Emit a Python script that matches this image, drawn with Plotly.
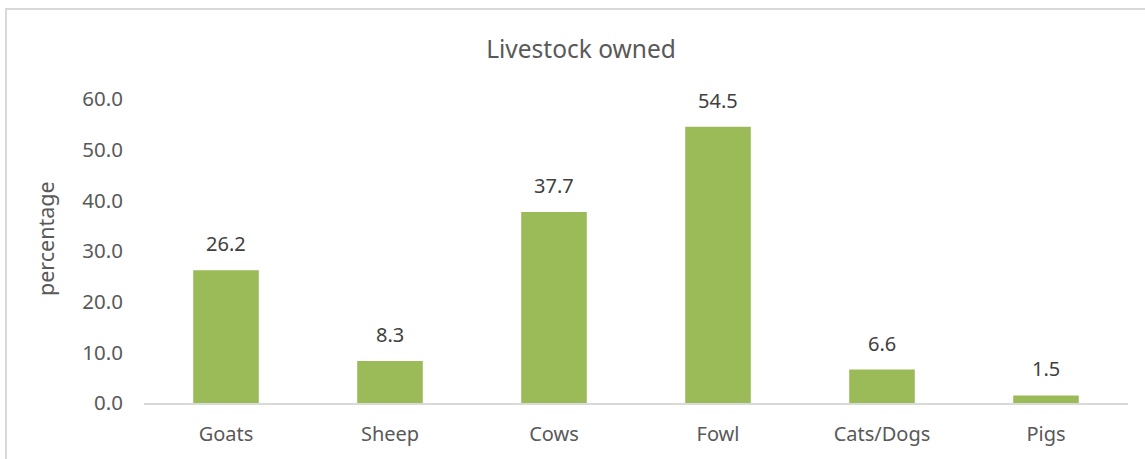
import plotly.graph_objects as go

categories = ["Goats", "Sheep", "Cows", "Fowl", "Cats/Dogs", "Pigs"]
values = [26.2, 8.3, 37.7, 54.5, 6.6, 1.5]
y_ticks = [0, 10, 20, 30, 40, 50, 60]

W, H = 1145, 459
L, R, T, B = 144, 17, 99, 56
pw = W - L - R
ph = H - T - B
FONT = "Noto Sans"

fig = go.Figure(go.Bar(
    x=categories, y=values,
    marker=dict(color="#9bbb59", line=dict(width=0)),
    width=0.4,
    cliponaxis=False,
))

annotations = [
    dict(x=c, y=v, xref="x", yref="y", text=f"{v:.1f}", showarrow=False,
         yanchor="bottom", yshift=11,
         font=dict(family=FONT, size=20, color="#404040"))
    for c, v in zip(categories, values)
]
annotations.append(
    dict(text="percentage", xref="paper", yref="paper",
         x=(45 - L) / pw, y=(H - 239 - B) / ph, xanchor="center", yanchor="middle",
         textangle=-90, showarrow=False,
         font=dict(family=FONT, size=21.5, color="#595959"))
)

fig.update_layout(
    width=W, height=H,
    margin=dict(l=L, r=R, t=T, b=B),
    paper_bgcolor="white", plot_bgcolor="white",
    title=dict(text="Livestock owned", x=581 / W, xanchor="center",
               y=1 - 49 / H, yanchor="middle",
               font=dict(family=FONT, size=24.5, color="#595959")),
    showlegend=False,
    annotations=annotations,
    xaxis=dict(showline=True, linecolor="#d9d9d9", linewidth=2, ticks="",
               tickfont=dict(family=FONT, size=20, color="#595959"),
               showgrid=False, ticklabelstandoff=12),
    yaxis=dict(range=[0, 60], tickvals=y_ticks, ticktext=[f"{v:.1f}" for v in y_ticks],
               showgrid=False, zeroline=False, ticks="", showline=False,
               tickfont=dict(family=FONT, size=20.5, color="#595959"),
               ticklabelstandoff=20),
    shapes=[
        dict(type="line", xref="paper", yref="paper",
             x0=(5 - L) / pw, x1=(W - L) / pw,
             y0=(H - 9 - B) / ph, y1=(H - 9 - B) / ph,
             line=dict(color="#d9d9d9", width=2)),
        dict(type="line", xref="paper", yref="paper",
             x0=(6 - L) / pw, x1=(6 - L) / pw,
             y0=(H - 9 - B) / ph, y1=(0 - B) / ph,
             line=dict(color="#d9d9d9", width=2)),
    ],
)

fig.write_html("out.html")
